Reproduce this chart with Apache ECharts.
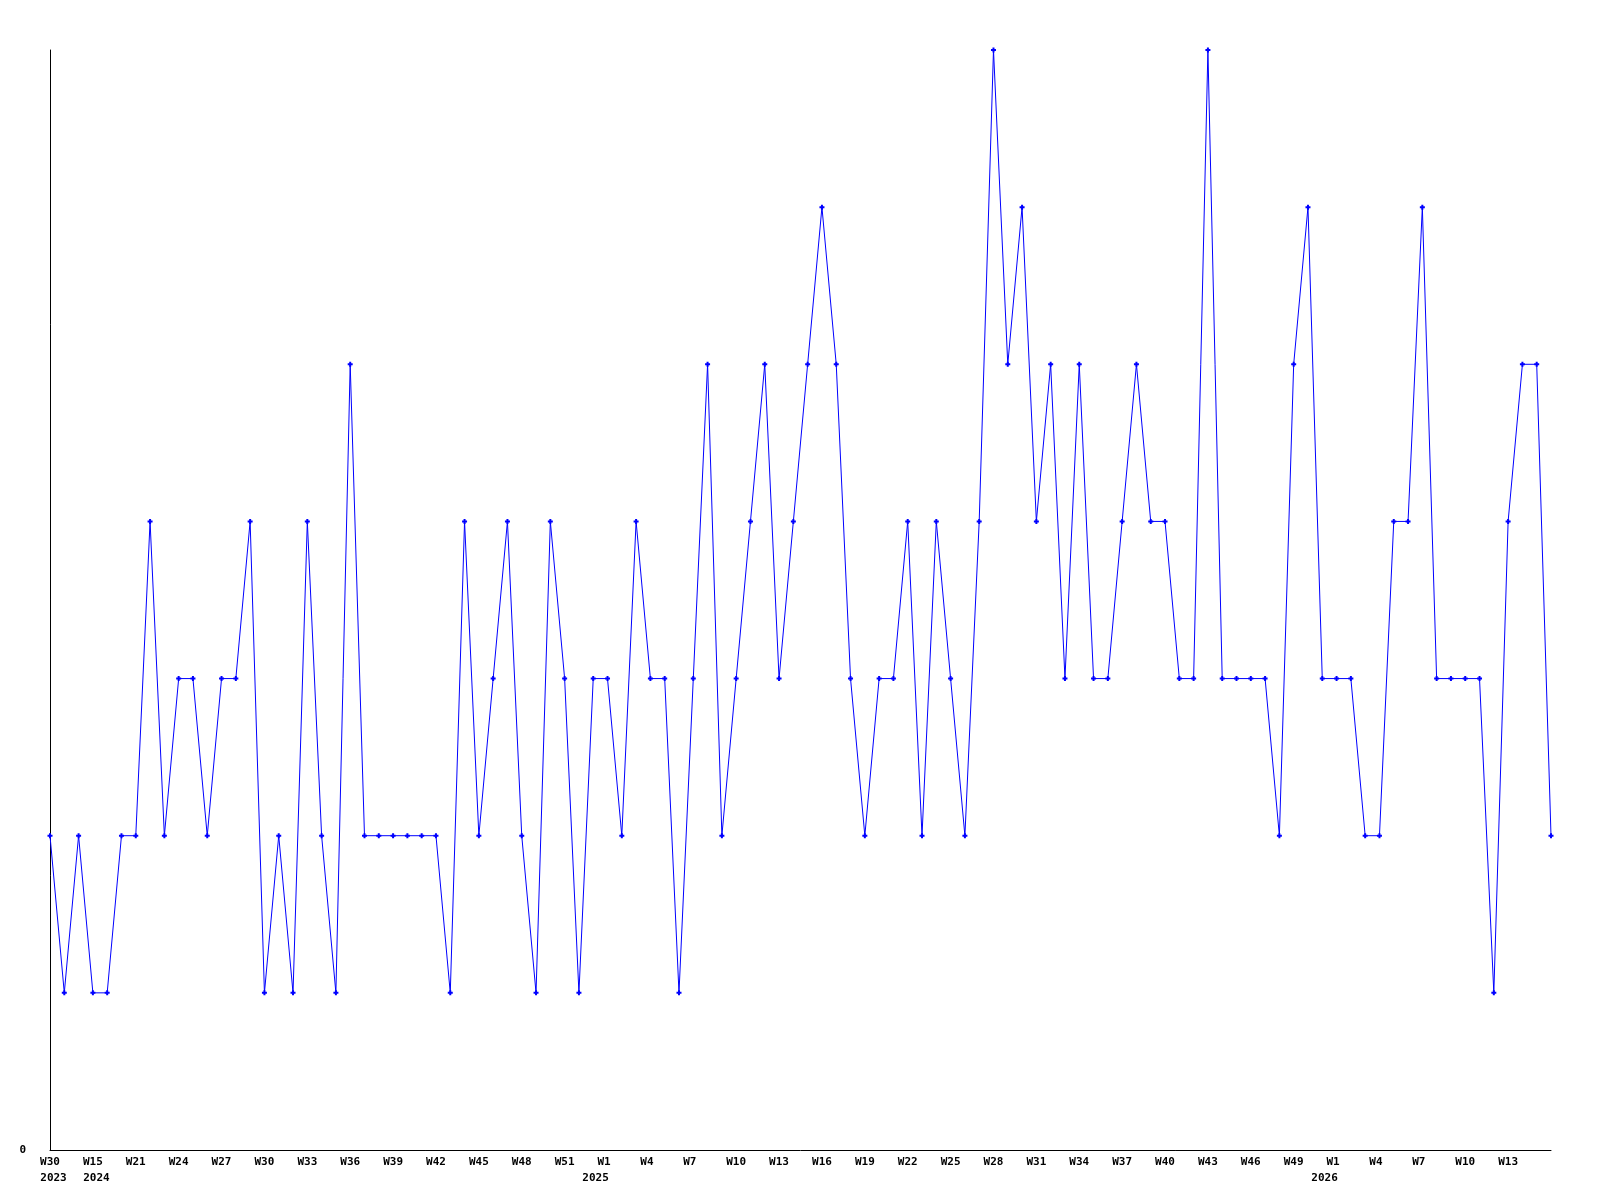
<!DOCTYPE html>
<html>
<head>
<meta charset="utf-8">
<script src="https://cdn.jsdelivr.net/npm/echarts@6/dist/echarts.min.js"></script>
<style>html,body{margin:0;padding:0;background:#fff}#c{width:1600px;height:1200px}</style>
</head>
<body>
<div id="c"></div>
<script>
// Week categories (year-Wweek); only every third is labelled on the axis
const categories = [
  "2023-W30","2024-W13","2024-W14","2024-W15","2024-W17","2024-W19",
  "2024-W21","2024-W22","2024-W23","2024-W24","2024-W25","2024-W26","2024-W27","2024-W28","2024-W29","2024-W30",
  "2024-W31","2024-W32","2024-W33","2024-W34","2024-W35","2024-W36","2024-W37","2024-W38","2024-W39","2024-W40",
  "2024-W41","2024-W42","2024-W43","2024-W44","2024-W45","2024-W46","2024-W47","2024-W48","2024-W49","2024-W50",
  "2024-W51","2024-W52","2025-W0",
  "2025-W1","2025-W2","2025-W3","2025-W4","2025-W5","2025-W6","2025-W7","2025-W8","2025-W9","2025-W10",
  "2025-W11","2025-W12","2025-W13","2025-W14","2025-W15","2025-W16","2025-W17","2025-W18","2025-W19","2025-W20",
  "2025-W21","2025-W22","2025-W23","2025-W24","2025-W25","2025-W26","2025-W27","2025-W28","2025-W29","2025-W30",
  "2025-W31","2025-W32","2025-W33","2025-W34","2025-W35","2025-W36","2025-W37","2025-W38","2025-W39","2025-W40",
  "2025-W41","2025-W42","2025-W43","2025-W44","2025-W45","2025-W46","2025-W47","2025-W48","2025-W49",
  "2025-W50","2025-W51",
  "2026-W1","2026-W2","2026-W3","2026-W4","2026-W5","2026-W6","2026-W7","2026-W8","2026-W9","2026-W10",
  "2026-W11","2026-W12","2026-W13","2026-W14","2026-W15","2026-W16"
];

// Weekly counts
const values = [
  2,1,2,1,1,2,2,4,2,3,3,2,3,3,4,1,2,1,
  4,2,1,5,2,2,2,2,2,2,1,4,2,3,4,2,1,4,
  3,1,3,3,2,4,3,3,1,3,5,2,3,4,5,3,4,
  5,6,5,3,2,3,3,4,2,4,3,2,4,7,5,6,4,5,
  3,5,3,3,4,5,4,4,3,3,7,3,3,3,3,2,5,
  6,3,3,3,2,2,4,4,6,3,3,3,3,1,4,5,5,2
];

const yMin = 0;
const yMax = 7;
const yTickLabels = ["0"];

const FONT = "'DejaVu Sans Mono', 'Liberation Mono', monospace";
const baseTxt = { fontFamily: FONT, fontWeight: 'bold', fontSize: 11, lineHeight: 16, color: '#000', align: 'center' };

function xLabel(value, index) {
  const parts = value.split('-W');
  const year = parts[0];
  const week = parseInt(parts[1], 10);
  const wStyle = week < 10 ? 'w1' : 'w';
  let s = '{' + wStyle + '|W' + week + '}';
  const prev = index >= 3 ? categories[index - 3].split('-W')[0] : null;
  if (index === 0 || year !== prev) {
    s += '\n{' + (week === 1 ? 'yb' : 'ya') + '|' + year + '}';
  }
  return s;
}

const chart = echarts.init(document.getElementById('c'), null, { renderer: 'canvas' });
chart.setOption({
  animation: false,
  backgroundColor: '#fff',
  grid: { left: 50, right: 49, top: 50, bottom: 50, containLabel: false },
  xAxis: {
    type: 'category',
    data: categories,
    boundaryGap: false,
    axisLine: { show: true, lineStyle: { color: '#000', width: 1 } },
    axisTick: { show: false },
    splitLine: { show: false },
    axisLabel: {
      interval: function (index) { return index % 3 === 0 && index < categories.length - 1; },
      margin: 4,
      hideOverlap: false,
      formatter: xLabel,
      rich: {
        w: Object.assign({}, baseTxt),
        w1: Object.assign({}, baseTxt, { padding: [0, 7, 0, 0] }),
        ya: Object.assign({}, baseTxt, { padding: [0, 0, 0, 7] }),
        yb: Object.assign({}, baseTxt, { padding: [0, 24, 0, 0] })
      }
    }
  },
  yAxis: {
    type: 'value',
    min: yMin,
    max: yMax,
    interval: yMax - yMin,
    axisLine: { show: true, lineStyle: { color: '#000', width: 1 } },
    axisTick: { show: false },
    splitLine: { show: false },
    axisLabel: {
      margin: 24,
      fontFamily: FONT,
      fontWeight: 'bold',
      fontSize: 11,
      color: '#000',
      formatter: function (v) { return v === yMin ? yTickLabels[0] : ''; }
    }
  },
  series: [{
    type: 'line',
    data: values,
    showAllSymbol: true,
    symbol: 'path://M1.5,0L3.5,0L3.5,1.5L5,1.5L5,3.5L3.5,3.5L3.5,5L1.5,5L1.5,3.5L0,3.5L0,1.5L1.5,1.5Z',
    symbolSize: 5,
    lineStyle: { color: '#0000ff', width: 1 },
    itemStyle: { color: '#0000ff' },
    emphasis: { disabled: true }
  }]
});
</script>
</body>
</html>
